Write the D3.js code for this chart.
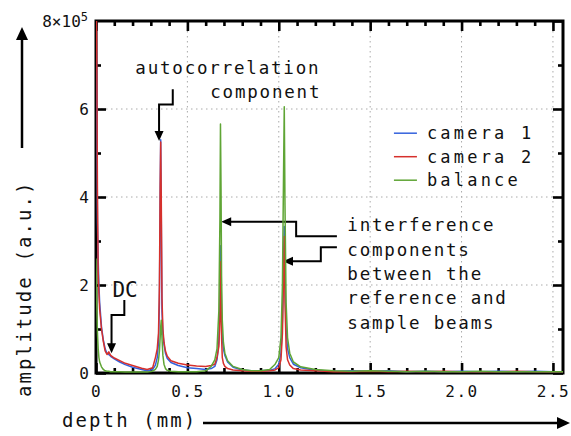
<!DOCTYPE html>
<html>
<head>
<meta charset="utf-8">
<script src="https://cdn.jsdelivr.net/npm/d3@7"></script>
</head>
<body style="margin:0">
<div class="svg-container"></div>
<script>
// depth samples (mm), shared by all series
const depth = [0, 0.004, 0.008, 0.012, 0.016, 0.02, 0.03, 0.04, 0.05, 0.06,
    0.07, 0.08, 0.1, 0.13, 0.16, 0.2, 0.25, 0.28, 0.31, 0.325,
    0.335, 0.342, 0.347, 0.351, 0.354, 0.357, 0.361, 0.366, 0.372, 0.38,
    0.39, 0.41, 0.45, 0.5, 0.55, 0.6, 0.63, 0.65, 0.662, 0.672,
    0.678, 0.681, 0.684, 0.687, 0.691, 0.697, 0.705, 0.72, 0.75, 0.8,
    0.85, 0.9, 0.95, 0.98, 1.0, 1.012, 1.02, 1.026, 1.03, 1.034,
    1.04, 1.048, 1.06, 1.08, 1.12, 1.2, 1.3, 1.4, 1.5, 1.6,
    1.7, 1.8, 1.9, 2.0, 2.1, 2.2, 2.3, 2.4, 2.5, 2.555];

// amplitudes in units of 1e5
const camera1 = [9.0, 6.5, 3.4, 2.56, 2.0, 1.6, 1.05, 0.75, 0.55, 0.45,
    0.42, 0.38, 0.32, 0.25, 0.19, 0.13, 0.08, 0.05, 0.08, 0.18,
    0.35, 0.7, 1.6, 4.0, 5.3, 3.6, 1.4, 0.9, 0.65, 0.45,
    0.33, 0.24, 0.17, 0.12, 0.1, 0.08, 0.1, 0.15, 0.3, 0.7,
    1.6, 2.89, 2.3, 1.3, 0.8, 0.55, 0.4, 0.25, 0.13, 0.07,
    0.05, 0.05, 0.06, 0.1, 0.2, 0.45, 1.2, 2.6, 3.33, 2.2,
    1.0, 0.55, 0.35, 0.2, 0.12, 0.06, 0.04, 0.05, 0.04, 0.05,
    0.03, 0.04, 0.03, 0.04, 0.03, 0.04, 0.03, 0.04, 0.03, 0.03];

const camera2 = [9.0, 7.5, 4.0, 2.3, 1.8, 1.45, 1.0, 0.72, 0.5, 0.42,
    0.48, 0.4, 0.34, 0.28, 0.22, 0.17, 0.11, 0.08, 0.12, 0.35,
    0.55, 0.9, 2.0, 4.2, 5.25, 4.0, 1.7, 1.0, 0.7, 0.5,
    0.38, 0.28, 0.22, 0.18, 0.16, 0.15, 0.17, 0.2, 0.35, 0.6,
    1.2, 2.53, 1.9, 0.8, 0.35, 0.22, 0.15, 0.1, 0.07, 0.05,
    0.04, 0.04, 0.05, 0.07, 0.12, 0.3, 0.9, 2.2, 3.1, 1.6,
    0.6, 0.3, 0.18, 0.1, 0.07, 0.05, 0.03, 0.03, 0.04, 0.03,
    0.04, 0.03, 0.04, 0.03, 0.03, 0.03, 0.04, 0.03, 0.03, 0.03];

const balance = [2.6, 1.6, 0.9, 0.55, 0.35, 0.25, 0.14, 0.08, 0.05, 0.04,
    0.04, 0.03, 0.03, 0.03, 0.02, 0.02, 0.02, 0.02, 0.04, 0.08,
    0.15, 0.3, 0.5, 0.8, 1.05, 1.2, 0.8, 0.4, 0.2, 0.1,
    0.06, 0.04, 0.03, 0.03, 0.03, 0.05, 0.15, 0.3, 0.55, 1.4,
    3.5, 5.66, 4.2, 2.2, 1.2, 0.7, 0.45, 0.28, 0.15, 0.08,
    0.05, 0.05, 0.08, 0.2, 0.35, 0.8, 2.0, 4.5, 6.05, 3.8,
    1.6, 0.8, 0.45, 0.25, 0.14, 0.08, 0.05, 0.04, 0.05, 0.04,
    0.03, 0.04, 0.03, 0.03, 0.04, 0.03, 0.03, 0.03, 0.03, 0.03];

const seriesNames = ['camera 1', 'camera 2', 'balance'];
const seriesColors = ['#3462dd', '#d6302c', '#5fa535'];
const yMajor = [0, 2, 4, 6];
const yMinor = [1, 3, 5, 7];
const xMajor = [0, 0.5, 1.0, 1.5, 2.0, 2.5];
const xMinor = [0.1, 0.2, 0.3, 0.4, 0.6, 0.7, 0.8, 0.9, 1.1, 1.2, 1.3, 1.4,
    1.6, 1.7, 1.8, 1.9, 2.1, 2.2, 2.3, 2.4];

const FONT = 'DejaVu Sans Mono, monospace';

var viewBox_width = 571,
    viewBox_height = 436,
    margin = {top: 21, right: 8, bottom: 63, left: 96},
    width = viewBox_width - margin.left - margin.right,
    height = viewBox_height - margin.top - margin.bottom;

var svg = d3.select('.svg-container')
    .append('svg')
    .attr('width', viewBox_width)
    .attr('height', viewBox_height)
    .attr('font-family', FONT);

var xScale = d3.scaleLinear().domain([0, 2.555]).range([0, width]),
    yScale = d3.scaleLinear().domain([0, 8]).range([height, 0]);

var g = svg.append('g')
    .attr('transform', 'translate(' + margin.left + ',' + margin.top + ')');

// dotted grid
g.selectAll('.hgrid').data([2, 4, 6]).enter().append('line')
    .attr('x1', 0).attr('x2', width)
    .attr('y1', d => yScale(d)).attr('y2', d => yScale(d))
    .attr('stroke', '#aaa').attr('stroke-dasharray', '1.5,3.5');
g.selectAll('.vgrid').data([0.5, 1.0, 1.5, 2.0, 2.5]).enter().append('line')
    .attr('y1', 0).attr('y2', height)
    .attr('x1', d => xScale(d)).attr('x2', d => xScale(d))
    .attr('stroke', '#aaa').attr('stroke-dasharray', '1.5,3.5');

// curves, clipped to the plot box
svg.append('clipPath').attr('id', 'plotclip')
    .append('rect').attr('x', margin.left).attr('y', margin.top).attr('width', width).attr('height', height);
var line = d3.line().x((d, i) => margin.left + xScale(depth[i])).y(d => margin.top + yScale(d));
var curves = svg.append('g').attr('clip-path', 'url(#plotclip)');
[camera1, camera2, balance].forEach(function (vals, k) {
    curves.append('path')
        .datum(vals)
        .attr('d', line)
        .attr('fill', 'none')
        .attr('stroke', seriesColors[k])
        .attr('stroke-width', 1.5)
        .attr('stroke-linejoin', 'round');
});

// frame
g.append('rect').attr('x', 0).attr('y', 0).attr('width', width).attr('height', height)
    .attr('fill', 'none').attr('stroke', 'black').attr('stroke-width', 3);

// ticks pointing inward
function tickGroup(axis, tx, ty) {
    var a = g.append('g').attr('transform', 'translate(' + tx + ',' + ty + ')').call(axis);
    a.attr('font-family', FONT).attr('font-size', 16);
    a.select('.domain').remove();
    a.selectAll('.tick line').attr('stroke', 'black').attr('stroke-width', 2.6);
    a.selectAll('.tick text').attr('fill', '#111');
    return a;
}
tickGroup(d3.axisLeft(yScale).tickValues(yMajor).tickSize(-10).tickPadding(7).tickFormat(d3.format('d')), 0, 0);
tickGroup(d3.axisLeft(yScale).tickValues(yMinor).tickSize(-5).tickFormat(''), 0, 0);
tickGroup(d3.axisRight(yScale).tickValues(yMajor.concat([8])).tickSize(-10).tickFormat(''), width, 0);
tickGroup(d3.axisRight(yScale).tickValues(yMinor).tickSize(-5).tickFormat(''), width, 0);
tickGroup(d3.axisBottom(xScale).tickValues(xMajor).tickSize(-10).tickPadding(9)
    .tickFormat(d => d === 0 ? '0' : d.toFixed(1)), 0, height)
    .selectAll('.tick text').attr('dy', '0.95em').attr('letter-spacing', 1.5);
tickGroup(d3.axisBottom(xScale).tickValues(xMinor).tickSize(-5).tickFormat(''), 0, height);
tickGroup(d3.axisTop(xScale).tickValues(xMajor).tickSize(-10).tickFormat(''), 0, 0);
tickGroup(d3.axisTop(xScale).tickValues(xMinor).tickSize(-5).tickFormat(''), 0, 0);

// top label 8x10^5
var topLab = g.append('text').attr('x', -8).attr('y', 6)
    .attr('text-anchor', 'end').attr('font-size', 16).attr('fill', '#111');
topLab.append('tspan').text('8×10');
topLab.append('tspan').attr('dy', -6).attr('font-size', 12).text('5');

// legend
var legend = g.append('g').attr('transform', 'translate(' + (xScale(1.63)) + ',' + yScale(5.45) + ')');
seriesNames.forEach(function (name, k) {
    legend.append('line').attr('x1', 0).attr('x2', 23)
        .attr('y1', k * 23.5).attr('y2', k * 23.5)
        .attr('stroke', seriesColors[k]).attr('stroke-width', 1.5);
    legend.append('text').attr('x', 33).attr('y', k * 23.5).attr('dy', '0.36em')
        .attr('font-size', 17).attr('letter-spacing', 3.2).attr('fill', '#111').text(name);
});

// annotations
function note(lines, x, y, step, size, ls) {
    var t = g.append('text').attr('font-size', size).attr('letter-spacing', ls).attr('fill', '#111');
    lines.forEach(function (s, i) {
        t.append('tspan').attr('x', x).attr('y', y + i * step).text(s);
    });
}
note(['autocorrelation'], xScale(0.215), yScale(6.8), 0, 17.5, 1.8);
note(['component'], xScale(0.625), yScale(6.25), 0, 17.5, 1.8);
note(['interference', 'components', 'between the', 'reference and', 'sample beams'],
    xScale(1.375), yScale(3.22), 24.3, 17.5, 1.8);
note(['DC'], xScale(0.09), yScale(1.73), 0, 21, 0);

// arrows: line + filled triangle head
function head(x, y, angle, len, half) {
    var a = angle * Math.PI / 180,
        bx = x - len * Math.cos(a), by = y - len * Math.sin(a),
        px = -Math.sin(a) * half, py = Math.cos(a) * half;
    return 'M' + x + ',' + y + 'L' + (bx + px) + ',' + (by + py) + 'L' + (bx - px) + ',' + (by - py) + 'Z';
}
function arrow(pts, angle) {
    var p = pts.map(q => [xScale(q[0]), yScale(q[1])]);
    var last = p[p.length - 1];
    var a = angle * Math.PI / 180;
    var shortened = p.slice(0, -1).concat([[last[0] - 6 * Math.cos(a), last[1] - 6 * Math.sin(a)]]);
    g.append('path').attr('d', d3.line()(shortened))
        .attr('fill', 'none').attr('stroke', 'black').attr('stroke-width', 2);
    g.append('path').attr('d', head(last[0], last[1], angle, 10, 4.5)).attr('fill', 'black');
}
arrow([[0.42, 6.45], [0.42, 6.1], [0.345, 6.1], [0.345, 5.27]], 90);
arrow([[1.318, 3.11], [1.095, 3.11], [1.095, 3.44], [0.685, 3.44]], 180);
arrow([[1.318, 2.86], [1.23, 2.86], [1.23, 2.54], [1.023, 2.54]], 180);
arrow([[0.155, 1.66], [0.155, 1.32], [0.085, 1.32], [0.085, 0.45]], 90);

// axis titles with long arrows
svg.append('text').attr('transform', 'translate(31,397) rotate(-90)')
    .attr('font-size', 19).attr('letter-spacing', 2.1).attr('fill', '#111').text('amplitude (a.u.)');
svg.append('line').attr('x1', 22).attr('y1', 148).attr('x2', 22).attr('y2', 36)
    .attr('stroke', 'black').attr('stroke-width', 2.5);
svg.append('path').attr('d', head(22, 27, -90, 13, 6)).attr('fill', 'black');
svg.append('text').attr('x', 62).attr('y', 427)
    .attr('font-size', 19).attr('letter-spacing', 2.1).attr('fill', '#111').text('depth (mm)');
svg.append('line').attr('x1', 203).attr('y1', 423).attr('x2', 560).attr('y2', 423)
    .attr('stroke', 'black').attr('stroke-width', 2.5);
svg.append('path').attr('d', head(570, 423, 0, 13, 6)).attr('fill', 'black');
</script>
</body>
</html>
